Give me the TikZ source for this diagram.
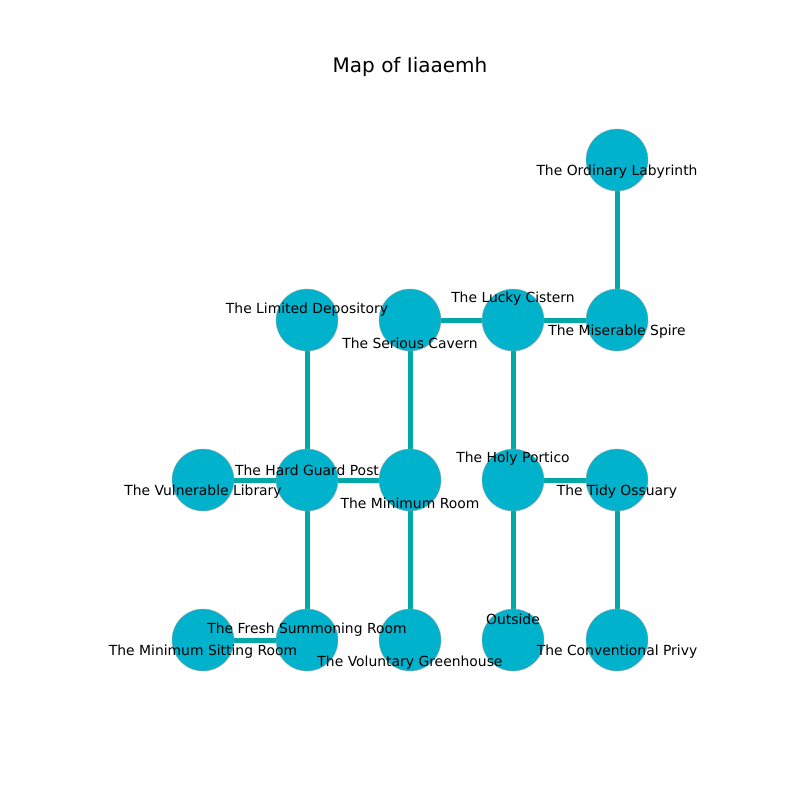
\documentclass[tikz,border=0pt]{standalone}
\usepackage{fontspec}
\setmainfont{DejaVu Sans}
\usetikzlibrary{backgrounds}
\definecolor{roomcol}{RGB}{0,178,204}
\definecolor{passcol}{RGB}{0,168,168}

\begin{document}
\begin{tikzpicture}[x=1pt,y=-1pt,
	room/.style={circle,fill=roomcol,draw=gray!70,line width=0.4pt,minimum size=62pt,inner sep=0pt},
	roomname/.style={font=\fontsize{13.9}{16}\selectfont,inner sep=0pt},
	passage/.style={draw=passcol,line width=5pt}]
	\useasboundingbox (0,0) rectangle (800,800);
	\node[font=\fontsize{20}{24}\selectfont] (title) at (410,67) {Map of Iiaaemh};
	% rooms
	\foreach \id/\x/\y in {labyrinth/617/160,
		depository/307/320,cavern/410/320,cistern/513/320,spire/617/320,
		library/203/480,guard/307/480,minroom/410/480,portico/513/480,ossuary/617/480,
		sitting/203/640,summoning/307/640,greenhouse/410/640,outside/513/640,privy/617/640}
		\node[room] (\id) at (\x,\y) {};
	% passages
	\begin{scope}[on background layer]
		\foreach \a/\b in {labyrinth/spire,depository/guard,cavern/cistern,cistern/spire,
			cavern/minroom,cistern/portico,library/guard,guard/minroom,portico/ossuary,
			guard/summoning,minroom/greenhouse,portico/outside,ossuary/privy,sitting/summoning}
			\draw[passage] (\a.center) -- (\b.center);
	\end{scope}
	% names
	\foreach \id/\dy/\txt in {labyrinth/-12/The Ordinary Labyrinth,
		depository/10/The Limited Depository,cavern/-23/The Serious Cavern,
		cistern/21/The Lucky Cistern,spire/-12/The Miserable Spire,
		library/-12/The Vulnerable Library,guard/10/The Hard Guard Post,
		minroom/-23/The Minimum Room,portico/21/The Holy Portico,
		ossuary/-12/The Tidy Ossuary,sitting/-12/The Minimum Sitting Room,
		summoning/10/The Fresh Summoning Room,greenhouse/-23/The Voluntary Greenhouse,
		outside/21/Outside,privy/-12/The Conventional Privy}
		\node[roomname] at ([yshift=\dy pt]\id.center) {\txt};
\end{tikzpicture}
\end{document}
